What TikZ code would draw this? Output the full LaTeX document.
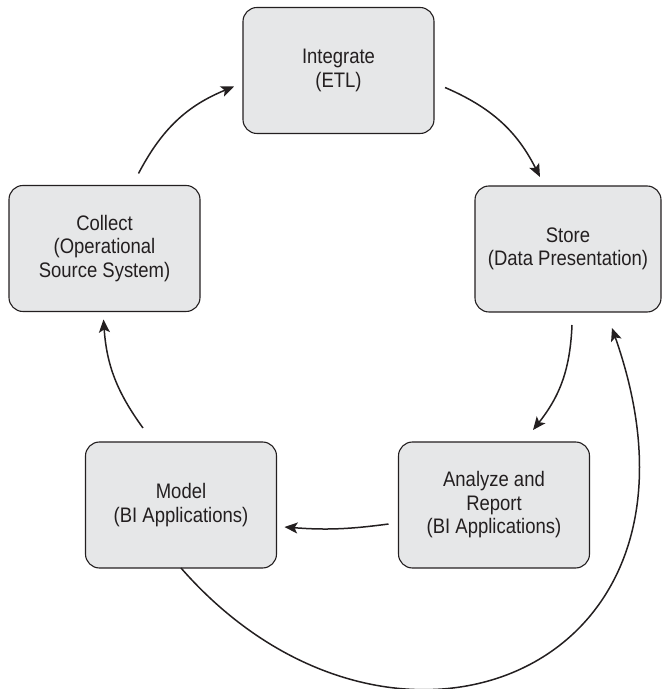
\documentclass[tikz,border=0pt]{standalone}
\usepackage{fontspec}
\setmainfont{Liberation Sans}[FakeStretch=0.88]
\usepackage{xcolor}
\usepackage{tikz}
\usetikzlibrary{arrows.meta}
\definecolor{boxfill}{HTML}{E6E7E8}
\definecolor{ink}{HTML}{231F20}

\begin{document}
\begin{tikzpicture}[x=1pt,y=1pt,stage/.style={draw=ink,line width=1.1pt,rounded corners=14pt,fill=boxfill,align=center,minimum width=191pt,minimum height=126pt,inner sep=0pt,outer sep=0pt,text=ink,font=\fontsize{21}{23.5}\selectfont},flow/.style={-{Stealth[length=13pt,width=11pt,inset=3pt]},draw=ink,line width=1.5pt}]
\useasboundingbox (0,0) rectangle (663,689);
\node[stage] (integ) at (338.5,618.5) {Integrate\\(ETL)};
\node[stage] (collect) at (104.5,440.5) {Collect\\(Operational\\Source System)};
\node[stage,minimum width=186pt] (store) at (568,440) {Store\\(Data Presentation)};
\node[stage] (analyze) at (494,184) {Analyze and\\Report\\(BI Applications)};
\node[stage] (model) at (181,184) {Model\\(BI Applications)};
\draw[flow] ([xshift=34pt,yshift=12pt]collect.north) to[bend left=20] ([xshift=-9pt,yshift=-16pt]integ.west);
\draw[flow] ([xshift=11pt,yshift=-17pt]integ.east) to[bend left=20] ([xshift=-28pt,yshift=9pt]store.north);
\draw[flow] ([xshift=4pt,yshift=-13pt]store.south) to[bend left=18] ([xshift=39pt,yshift=12pt]analyze.north);
\draw[flow] ([xshift=-10pt,yshift=-19pt]analyze.west) to[bend left=6] ([xshift=8pt,yshift=-22pt]model.east);
\draw[flow] ([xshift=-38pt,yshift=14pt]model.north) to[bend left=16] ([xshift=-1pt,yshift=-8pt]collect.south);
\draw[flow] (model.south) .. controls (390,-118) and (734,14) .. ([xshift=44pt,yshift=-16pt]store.south);
\end{tikzpicture}
\end{document}
